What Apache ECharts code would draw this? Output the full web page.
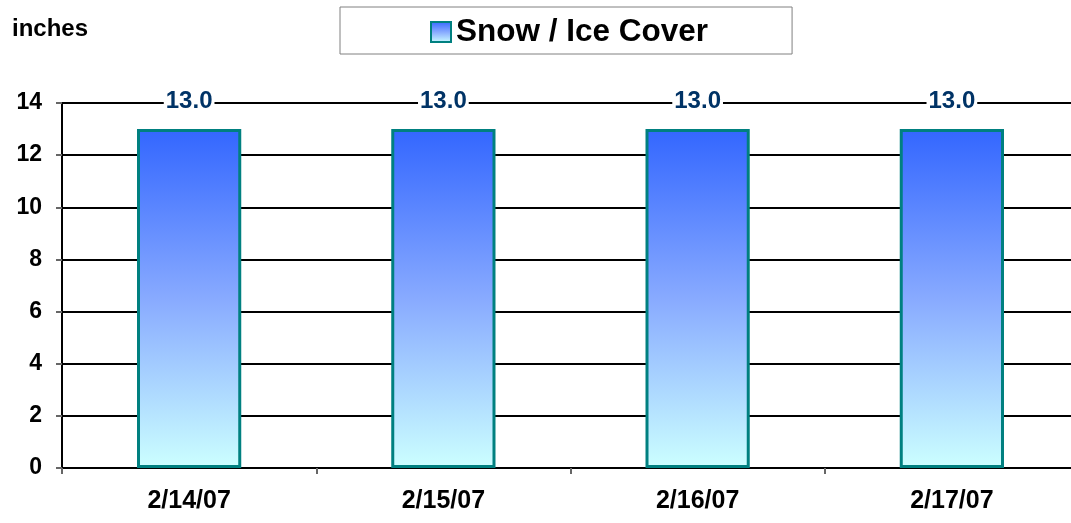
<!DOCTYPE html>
<html>
<head>
<meta charset="utf-8">
<script src="https://cdn.jsdelivr.net/npm/echarts@6/dist/echarts.min.js"></script>
<style>
  html, body { margin: 0; padding: 0; background: #fff; }
  #chart { width: 1071px; height: 523px; }
</style>
</head>
<body>
<div id="chart"></div>
<script>
var categories = ['2/14/07', '2/15/07', '2/16/07', '2/17/07'];
var snowIce = [13.0, 13.0, 13.0, 13.0];
var yTicks = { min: 0, max: 14, interval: 2 };

var chart = echarts.init(document.getElementById('chart'));

var barFill = new echarts.graphic.LinearGradient(0, 0, 0, 1, [
    { offset: 0, color: '#3366ff' },
    { offset: 0.5, color: '#88aaff' },
    { offset: 1, color: '#ccffff' }
]);

var option = {
    animation: false,
    textStyle: { fontFamily: 'Arial, "Liberation Sans", sans-serif' },
    title: {
        text: 'inches',
        left: 7,
        top: 12,
        textStyle: { fontSize: 24, fontWeight: 'bold', color: '#000' }
    },
    legend: {
        left: 340,
        top: 7,
        padding: [9, 84, 6, 90],
        borderColor: '#808080',
        borderWidth: 1,
        icon: 'rect',
        itemWidth: 20,
        itemHeight: 20,
        textStyle: { fontSize: 31.5, fontWeight: 'bold', color: '#000' },
        data: ['Snow / Ice Cover']
    },
    grid: {
        left: 62,
        top: 103,
        width: 1017,
        height: 365,
        outerBoundsMode: 'none',
        containLabel: false
    },
    xAxis: {
        type: 'category',
        data: categories,
        axisLine: { lineStyle: { color: '#000', width: 2 } },
        axisTick: { show: true, length: 6, lineStyle: { color: '#666', width: 2 } },
        axisLabel: { fontSize: 25, fontWeight: 'bold', color: '#000', margin: 21 }
    },
    yAxis: {
        type: 'value',
        min: yTicks.min,
        max: yTicks.max,
        interval: yTicks.interval,
        axisLine: { show: true, lineStyle: { color: '#000', width: 2 } },
        axisTick: { show: true, length: 6, lineStyle: { color: '#666', width: 2 } },
        axisLabel: { fontSize: 23, fontWeight: 'bold', color: '#000', margin: 20 },
        splitLine: { lineStyle: { color: '#000', width: 2 } }
    },
    series: [{
        name: 'Snow / Ice Cover',
        type: 'bar',
        data: snowIce,
        barWidth: '41%',
        itemStyle: {
            color: barFill,
            borderColor: '#008080',
            borderWidth: 3
        },
        label: {
            show: true,
            position: 'top',
            distance: 16,
            formatter: function (p) { return p.value.toFixed(1); },
            fontSize: 24,
            fontWeight: 'bold',
            color: '#003366',
            backgroundColor: '#fff',
            padding: [0, 2]
        }
    }]
};

chart.setOption(option);
</script>
</body>
</html>
